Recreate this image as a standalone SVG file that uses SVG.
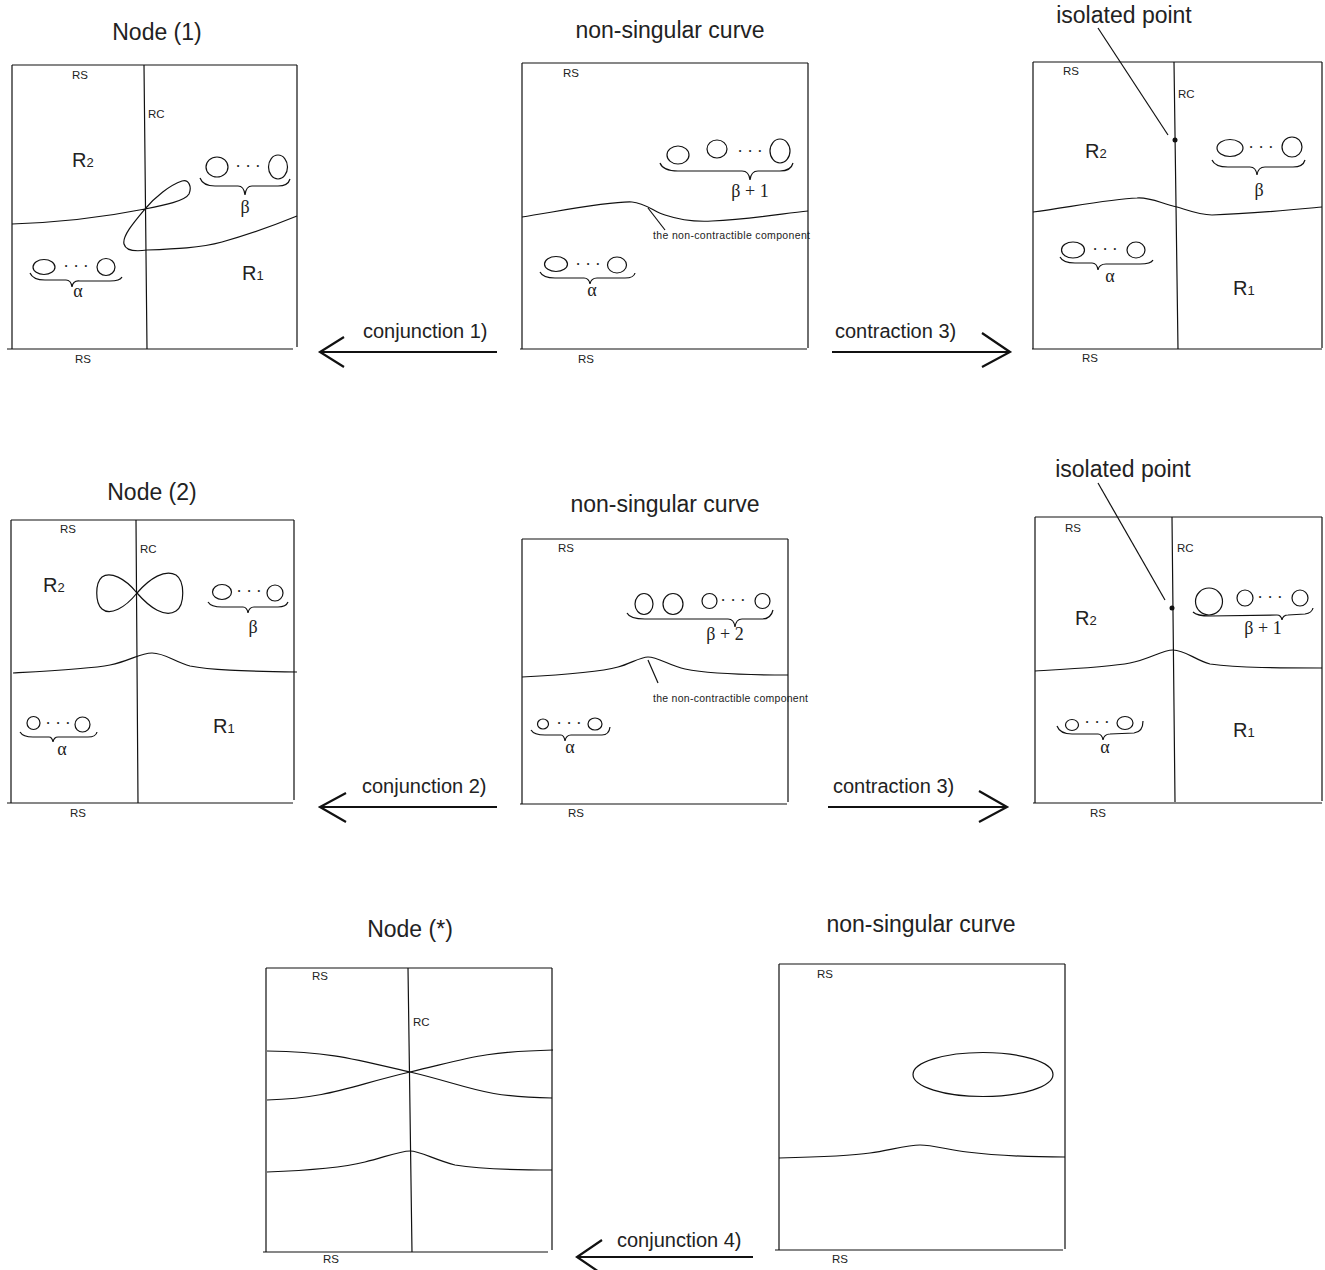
<svg xmlns="http://www.w3.org/2000/svg" width="1325" height="1270" viewBox="0 0 1325 1270">
<defs>
<style>
.bx{stroke:#111;stroke-width:1.2;fill:none}
.cv{stroke:#111;stroke-width:1.2;fill:none}
.ar{stroke:#111;stroke-width:2.2;fill:none}
.t{font-family:"Liberation Sans",Arial,sans-serif;fill:#222}
.title{font-size:23px;text-anchor:middle}
.lbl{font-size:20px}
.sm{font-size:11.5px}
.rr{font-size:20px}
.tiny{font-size:10.5px}
.m{font-family:"Liberation Serif","Times New Roman",serif;fill:#222;font-size:18px;text-anchor:middle}
.d{font-family:"Liberation Serif","Times New Roman",serif;fill:#222;font-size:17px;text-anchor:middle}
</style>
</defs>
<rect width="1325" height="1270" fill="#fff"/>

<g id="node1">
<text class="t title" x="157" y="40">Node (1)</text>
<path class="bx" d="M12,65H297M12,65V349M297,65V347M7,349H293M144,65L147,349"/>
<text class="t sm" x="72" y="79">RS</text>
<text class="t sm" x="148" y="118">RC</text>
<text class="t rr" x="72" y="167">R<tspan font-size="13">2</tspan></text>
<text class="t rr" x="242" y="280">R<tspan font-size="13">1</tspan></text>
<text class="t sm" x="75" y="363">RS</text>
<path class="cv" d="M12,224 C70,222 115,215 145,209 C165,205 185,201 189,194 C192,187 189,179 182,181 C170,185 155,197 145,209 C135,221 122,236 124,244 C126,252 140,251 147,250 C175,249 200,248 222,242 C250,234 275,225 297,216"/>
<ellipse class="cv" cx="217" cy="167" rx="11" ry="10"/>
<ellipse class="cv" cx="278" cy="167" rx="9.5" ry="12"/>
<text class="d" x="248" y="172">· · ·</text>
<path class="cv" d="M200,178 Q203,186 215,186 L238,186 Q244,186 245,195 Q246,186 252,186 L278,186 Q288,186 290,179"/>
<text class="m" x="245" y="213">β</text>
<ellipse class="cv" cx="44" cy="267" rx="11" ry="7.5"/>
<ellipse class="cv" cx="106" cy="267" rx="9" ry="8.5"/>
<text class="d" x="76" y="272">· · ·</text>
<path class="cv" d="M30,273 Q33,280 45,280 L66,280 Q71,280 72,287 Q73,280 80,281 L110,281 Q120,281 122,277"/>
<text class="m" x="78" y="297">α</text>
</g>

<g id="curve1">
<text class="t title" x="670" y="38">non-singular curve</text>
<path class="bx" d="M522,63H808M522,63V349M808,63V348M520,349H807"/>
<text class="t sm" x="563" y="77">RS</text>
<text class="t sm" x="578" y="363">RS</text>
<path class="cv" d="M522,217 C560,211 610,201 632,202 C645,203 655,212 665,215 C680,220 695,222 712,221 C750,219 780,214 808,211"/>
<path class="cv" d="M648,208L665,230"/>
<text class="t tiny" x="653" y="239" textLength="157">the non-contractible component</text>
<ellipse class="cv" cx="678" cy="155" rx="11" ry="9"/>
<ellipse class="cv" cx="717" cy="149" rx="10" ry="9"/>
<ellipse class="cv" cx="780" cy="151" rx="10" ry="12"/>
<text class="d" x="750" y="157">· · ·</text>
<path class="cv" d="M660,163 Q663,171 678,171 L742,171 Q749,171 750,180 Q751,171 758,171 L780,171 Q791,171 793,163"/>
<text class="m" x="750" y="197">β + 1</text>
<ellipse class="cv" cx="556" cy="264" rx="11.5" ry="7.5"/>
<ellipse class="cv" cx="617" cy="265" rx="9.5" ry="8"/>
<text class="d" x="588" y="270">· · ·</text>
<path class="cv" d="M540,272 Q543,278 555,278 L584,278 Q589,278 590,284 Q591,278 597,278 L625,278 Q634,278 635,273"/>
<text class="m" x="592" y="296">α</text>
</g>

<g id="isolated1">
<text class="t title" x="1124" y="23">isolated point</text>
<path class="bx" d="M1033,62H1322M1033,62V349M1322,62V348M1032,349H1322M1174,62L1178,349"/>
<text class="t sm" x="1063" y="75">RS</text>
<text class="t sm" x="1178" y="98">RC</text>
<text class="t rr" x="1085" y="158">R<tspan font-size="13">2</tspan></text>
<text class="t rr" x="1233" y="295">R<tspan font-size="13">1</tspan></text>
<text class="t sm" x="1082" y="362">RS</text>
<path class="cv" d="M1098,28L1168,135"/>
<circle cx="1175" cy="140" r="2.5" fill="#111"/>
<path class="cv" d="M1033,212 C1070,207 1110,199 1137,198 C1150,197 1160,203 1177,207 C1190,211 1200,215 1212,215 C1250,214 1290,210 1322,207"/>
<ellipse class="cv" cx="1230" cy="148" rx="13" ry="8.5"/>
<ellipse class="cv" cx="1292" cy="147" rx="10" ry="10"/>
<text class="d" x="1261" y="153">· · ·</text>
<path class="cv" d="M1212,160 Q1215,167 1228,167 L1250,167 Q1256,167 1257,175 Q1258,167 1265,167 L1293,167 Q1303,167 1305,160"/>
<text class="m" x="1259" y="196">β</text>
<ellipse class="cv" cx="1073" cy="250" rx="11.5" ry="8"/>
<ellipse class="cv" cx="1136" cy="250" rx="9" ry="8"/>
<text class="d" x="1105" y="255">· · ·</text>
<path class="cv" d="M1060,257 Q1063,263 1075,263 L1092,263 Q1097,263 1098,270 Q1099,264 1106,264 L1140,264 Q1151,264 1153,260"/>
<text class="m" x="1110" y="282">α</text>
</g>

<g id="node2">
<text class="t title" x="152" y="500">Node (2)</text>
<path class="bx" d="M11,520H294M11,520V803M294,520V800M7,803H293M136,520L138,803"/>
<text class="t sm" x="60" y="533">RS</text>
<text class="t sm" x="140" y="553">RC</text>
<text class="t rr" x="43" y="592">R<tspan font-size="13">2</tspan></text>
<text class="t rr" x="213" y="733">R<tspan font-size="13">1</tspan></text>
<text class="t sm" x="70" y="817">RS</text>
<path class="cv" d="M137,593 C125,578 110,571 102,577 C95,583 95,603 102,609 C110,616 125,608 137,593 C150,578 165,569 176,575 C185,581 185,605 176,611 C165,618 150,608 137,593 Z"/>
<path class="cv" d="M13,673 C50,671 90,669 110,665 C130,661 140,653 152,653 C165,653 175,662 190,666 C210,670 240,671 297,672"/>
<ellipse class="cv" cx="222" cy="592" rx="9.5" ry="7.5"/>
<ellipse class="cv" cx="275" cy="593" rx="8" ry="8"/>
<text class="d" x="249" y="597">· · ·</text>
<path class="cv" d="M208,602 Q211,607 222,607 L243,607 Q247,607 248,613 Q249,607 254,607 L278,607 Q286,607 288,602"/>
<text class="m" x="253" y="633">β</text>
<circle class="cv" cx="33.5" cy="723" r="6.5"/>
<circle class="cv" cx="82.5" cy="724.5" r="7.5"/>
<text class="d" x="58" y="729">· · ·</text>
<path class="cv" d="M20,732 Q23,737 33,737 L49,737 Q52,737 53,742 Q54,737 58,737 L88,737 Q96,737 97,732"/>
<text class="m" x="62" y="755">α</text>
</g>

<g id="curve2">
<text class="t title" x="665" y="512">non-singular curve</text>
<path class="bx" d="M522,539H788M522,539V804M788,539V802M520,804H787"/>
<text class="t sm" x="558" y="552">RS</text>
<text class="t sm" x="568" y="817">RS</text>
<path class="cv" d="M522,677 C560,675 600,672 618,667 C630,664 640,657 648,657 C658,657 670,666 685,669 C710,674 750,675 788,675"/>
<path class="cv" d="M648,660L658,683"/>
<text class="t tiny" x="653" y="702" textLength="155">the non-contractible component</text>
<ellipse class="cv" cx="644" cy="604" rx="9" ry="10.5"/>
<ellipse class="cv" cx="673" cy="604" rx="10" ry="10.5"/>
<circle class="cv" cx="709.5" cy="601" r="7.5"/>
<circle class="cv" cx="762.5" cy="601" r="7.5"/>
<text class="d" x="733" y="606">· · ·</text>
<path class="cv" d="M627,613 Q630,619 645,619 L728,619 Q734,619 735,627 Q736,619 742,619 L762,619 Q771,619 773,610"/>
<text class="m" x="725" y="640">β + 2</text>
<ellipse class="cv" cx="543" cy="724" rx="5.5" ry="5"/>
<ellipse class="cv" cx="595" cy="724" rx="7" ry="6"/>
<text class="d" x="569" y="729">· · ·</text>
<path class="cv" d="M531,730 Q534,735 545,735 L561,735 Q564,735 565,741 Q566,735 571,735 L602,735 Q609,735 610,727"/>
<text class="m" x="570" y="753">α</text>
</g>

<g id="isolated2">
<text class="t title" x="1123" y="477">isolated point</text>
<path class="bx" d="M1035,517H1322M1035,517V803M1322,517V801M1033,803H1322M1172,517L1175,802"/>
<text class="t sm" x="1065" y="532">RS</text>
<text class="t sm" x="1177" y="552">RC</text>
<text class="t rr" x="1075" y="625">R<tspan font-size="13">2</tspan></text>
<text class="t rr" x="1233" y="737">R<tspan font-size="13">1</tspan></text>
<text class="t sm" x="1090" y="817">RS</text>
<path class="cv" d="M1098,483L1165,600"/>
<circle cx="1172" cy="608" r="2.5" fill="#111"/>
<path class="cv" d="M1035,671 C1070,669 1110,667 1130,663 C1150,659 1162,650 1173,650 C1185,650 1195,660 1210,664 C1240,668 1280,668 1322,668"/>
<circle class="cv" cx="1209" cy="601.5" r="13.5"/>
<circle class="cv" cx="1245" cy="598" r="8"/>
<circle class="cv" cx="1300" cy="598" r="8"/>
<text class="d" x="1270" y="603">· · ·</text>
<path class="cv" d="M1193,612 Q1197,616 1210,616 L1277,615 Q1281,615 1282,620 Q1283,615 1288,615 L1305,614 Q1312,613 1313,608"/>
<text class="m" x="1263" y="634">β + 1</text>
<ellipse class="cv" cx="1072" cy="725" rx="6.5" ry="5.5"/>
<ellipse class="cv" cx="1125" cy="723" rx="8" ry="6.5"/>
<text class="d" x="1097" y="728">· · ·</text>
<path class="cv" d="M1057,726 Q1060,734 1072,734 L1098,734 Q1102,734 1103,740 Q1104,734 1110,734 L1134,733 Q1143,732 1143,721"/>
<text class="m" x="1105" y="753">α</text>
</g>

<g id="nodestar">
<text class="t title" x="410" y="937">Node (*)</text>
<path class="bx" d="M266,968H552M266,968V1252M552,968V1250M263,1252H548M408,968L412,1252"/>
<text class="t sm" x="312" y="980">RS</text>
<text class="t sm" x="413" y="1026">RC</text>
<text class="t sm" x="323" y="1263">RS</text>
<path class="cv" d="M267,1051 C330,1052 350,1058 410,1072 C470,1086 480,1097 552,1098"/>
<path class="cv" d="M267,1100 C330,1098 350,1086 410,1072 C470,1058 480,1052 553,1050"/>
<path class="cv" d="M267,1172 C320,1170 345,1167 365,1162 C385,1157 400,1151 410,1151 C420,1151 435,1160 455,1165 C480,1169 520,1170 552,1170"/>
</g>

<g id="curve3">
<text class="t title" x="921" y="932">non-singular curve</text>
<path class="bx" d="M779,964H1065M779,964V1250M1065,964V1249M775,1250H1063"/>
<text class="t sm" x="817" y="978">RS</text>
<text class="t sm" x="832" y="1263">RS</text>
<ellipse class="cv" cx="983" cy="1074.5" rx="70" ry="22"/>
<path class="cv" d="M779,1158 C820,1157 850,1156 870,1153 C890,1150 908,1145 920,1145 C932,1145 950,1150 967,1152 C1000,1156 1030,1157 1065,1157"/>
</g>

<g id="connectors">
<path class="ar" d="M320,352H497M344,337L320,352L344,367"/>
<text class="t lbl" x="363" y="338">conjunction 1)</text>
<path class="ar" d="M832,352H1010M982,333L1010,352L982,367"/>
<text class="t lbl" x="835" y="338">contraction 3)</text>
<path class="ar" d="M320,807H497M346,793L320,807L346,822"/>
<text class="t lbl" x="362" y="793">conjunction 2)</text>
<path class="ar" d="M828,807H1007M979,791L1007,807L979,822"/>
<text class="t lbl" x="833" y="793">contraction 3)</text>
<path class="ar" d="M577,1257H753M602,1240L577,1257L602,1274"/>
<text class="t lbl" x="617" y="1247">conjunction 4)</text>
</g>
</svg>
